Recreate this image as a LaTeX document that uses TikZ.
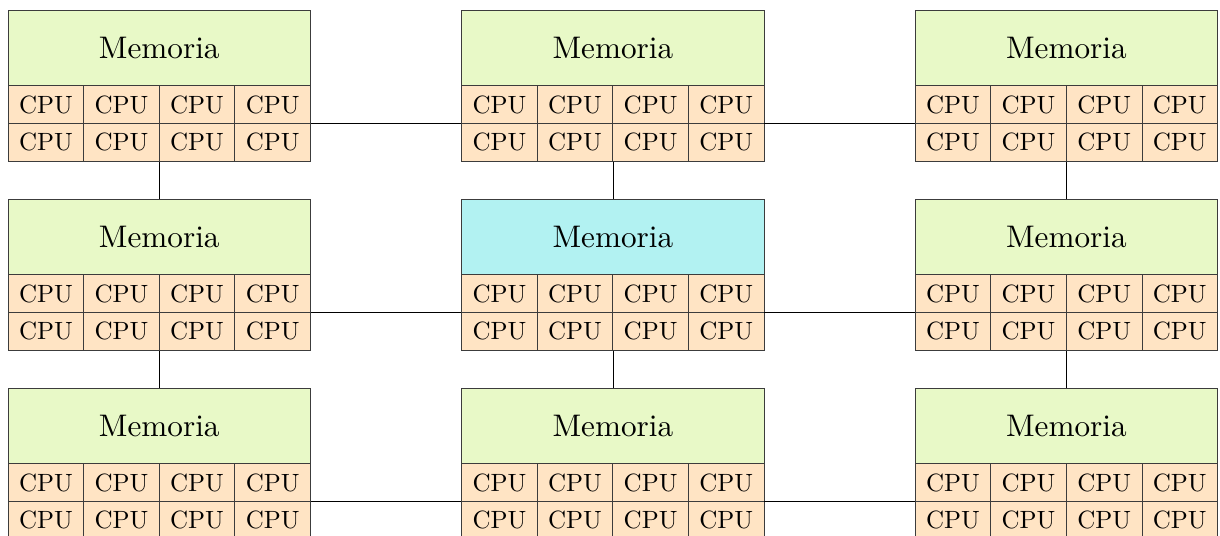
\documentclass[tikz,border=0pt]{standalone}
\usepackage{fontspec}
\setmainfont{lmroman10-regular}[Extension=.otf]
\definecolor{memgreen}{RGB}{232,249,199}
\definecolor{memcyan}{RGB}{178,242,242}
\definecolor{cpupeach}{RGB}{255,228,196}
\definecolor{edge}{RGB}{60,60,60}
\tikzset{
  membox/.style={draw=edge, line width=0.6pt, fill=memgreen, minimum width=8cm, minimum height=2cm, inner sep=0pt, anchor=north west, font=\fontsize{23.5}{26}\selectfont},
  cpubox/.style={draw=edge, line width=0.6pt, fill=cpupeach, minimum width=2cm, minimum height=1cm, inner sep=0pt, anchor=north west, font=\fontsize{18.8}{21}\selectfont},
  link/.style={draw=black, line width=0.6pt}
}
\begin{document}
\begin{tikzpicture}
\useasboundingbox (-0.204,0.257) rectangle (32.076,-13.92);
\foreach \i in {0,1,2}{
  \foreach \j in {0,1,2}{
    \pgfmathtruncatemacro{\x}{12*\i}
    \pgfmathtruncatemacro{\y}{-5*\j}
    \node[membox] (m-\i-\j) at (\x,\y) {Memoria};
    \foreach \r in {1,2}{
      \foreach \k in {1,2,3,4}{
        \node[cpubox] (c-\i-\j-\r-\k) at ({\x+2*(\k-1)},{\y-2-(\r-1)}) {CPU};
      }
    }
  }
}
\node[membox, fill=memcyan] at (m-1-1.north west) {Memoria};
% horizontal links
\foreach \j in {0,1,2}{
  \draw[link] (c-0-\j-2-4.north east) -- (c-1-\j-2-1.north west);
  \draw[link] (c-1-\j-2-4.north east) -- (c-2-\j-2-1.north west);
}
% vertical links
\foreach \i in {0,1,2}{
  \draw[link] (c-\i-0-2-2.south east) -- (c-\i-0-2-2.south east |- m-\i-1.north);
  \draw[link] (c-\i-1-2-2.south east) -- (c-\i-1-2-2.south east |- m-\i-2.north);
}
\end{tikzpicture}
\end{document}
